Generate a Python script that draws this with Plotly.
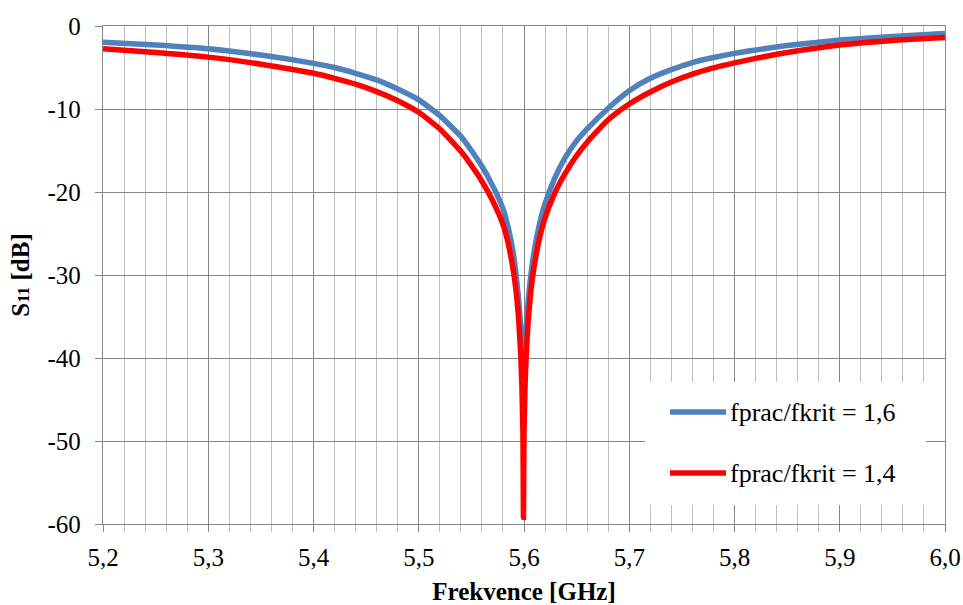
import plotly.graph_objects as go

# Reflection coefficient S11 [dB] versus frequency for two fprac/fkrit ratios
freq_16 = [5.20, 5.25, 5.30, 5.35, 5.40, 5.42, 5.44, 5.46, 5.48, 5.50, 5.52, 5.54, 5.55,
           5.56, 5.57, 5.58, 5.585, 5.59, 5.5925, 5.595, 5.597, 5.598, 5.599, 5.5995,
           5.600, 5.601, 5.602, 5.604, 5.6065, 5.609, 5.614, 5.619, 5.629, 5.639, 5.649,
           5.66, 5.68, 5.70, 5.72, 5.74, 5.76, 5.78, 5.80, 5.82, 5.85, 5.90, 5.95, 6.00]
s11_16 = [-1.95, -2.3, -2.75, -3.5, -4.5, -5.0, -5.7, -6.5, -7.6, -8.9, -10.8, -13.3, -15.0,
          -16.9, -19.2, -22.0, -24.3, -27.5, -30.0, -33.1, -36.5, -38.4, -40.2, -40.9,
          -40.2, -38.4, -36.5, -33.1, -30.0, -27.7, -24.3, -21.8, -18.4, -15.9, -14.0,
          -12.4, -9.9, -7.8, -6.3, -5.25, -4.4, -3.8, -3.3, -2.9, -2.35, -1.7, -1.25, -0.9]

freq_14 = [5.20, 5.25, 5.30, 5.35, 5.40, 5.42, 5.44, 5.46, 5.48, 5.50, 5.52, 5.54, 5.55,
           5.56, 5.57, 5.58, 5.585, 5.59, 5.5925, 5.595, 5.597, 5.598, 5.599, 5.5995,
           5.600, 5.601, 5.602, 5.604, 5.6065, 5.609, 5.614, 5.619, 5.629, 5.639, 5.649,
           5.66, 5.68, 5.70, 5.72, 5.74, 5.76, 5.78, 5.80, 5.82, 5.85, 5.90, 5.95, 6.00]
s11_14 = [-2.75, -3.2, -3.75, -4.6, -5.7, -6.3, -7.0, -7.9, -9.0, -10.4, -12.4, -15.1, -16.8,
          -18.7, -21.0, -23.9, -26.2, -29.6, -32.0, -35.5, -39.9, -43.4, -49.1, -59.2,
          -49.1, -43.4, -39.9, -35.5, -32.0, -29.5, -26.0, -23.5, -20.2, -17.8, -15.8,
          -14.0, -11.3, -9.4, -7.95, -6.75, -5.8, -5.05, -4.45, -3.9, -3.2, -2.3, -1.75, -1.4]

names = ["fprac/fkrit = 1,6", "fprac/fkrit = 1,4"]
colors = ["#4F81BD", "#FF0000"]

x_ticks = [5.2, 5.3, 5.4, 5.5, 5.6, 5.7, 5.8, 5.9, 6.0]
x_labels = ["5,2", "5,3", "5,4", "5,5", "5,6", "5,7", "5,8", "5,9", "6,0"]
y_ticks = [0, -10, -20, -30, -40, -50, -60]
y_labels = ["0", "-10", "-20", "-30", "-40", "-50", "-60"]

FONT = "Liberation Serif"
MAJOR = "#868686"
MINOR = "#BDBDBD"
TICKFONT = dict(family=FONT, size=25, color="black")
TITLEFONT = dict(family=FONT, size=25, color="black")

L, R, T, B = 103, 18, 26, 81
W, H = 963, 605
PW, PH = W - L - R, H - T - B

fig = go.Figure()
for fx, fy, name, col in [(freq_16, s11_16, names[0], colors[0]),
                          (freq_14, s11_14, names[1], colors[1])]:
    fig.add_trace(go.Scatter(x=fx, y=fy, name=name, mode="lines",
                             line=dict(color=col, width=5.5, shape="spline", smoothing=0.5),
                             showlegend=False))

fig.update_layout(
    width=W, height=H,
    margin=dict(l=L, r=R, t=T, b=B, autoexpand=False),
    plot_bgcolor="white", paper_bgcolor="white",
    font=dict(family=FONT, size=25, color="black"),
)

fig.update_xaxes(
    range=[5.2, 6.0], tickvals=x_ticks, ticktext=x_labels, automargin=False,
    tickfont=TICKFONT,
    showgrid=True, gridcolor=MAJOR, gridwidth=1.3,
    showline=True, linecolor=MAJOR, linewidth=1.3, mirror=True,
    ticks="outside", ticklen=7, tickcolor=MAJOR, tickwidth=1.3,
    ticklabelstandoff=4,
    minor=dict(dtick=0.02, tick0=5.2, showgrid=True, gridcolor=MINOR, gridwidth=1.3,
               ticks="outside", ticklen=7, tickcolor=MINOR),
    zeroline=False,
    title=dict(text="<b>Frekvence [GHz]</b>", font=TITLEFONT, standoff=12),
)
fig.update_yaxes(
    range=[-60, 0], tickvals=y_ticks, ticktext=y_labels, automargin=False,
    tickfont=TICKFONT,
    showgrid=True, gridcolor=MAJOR, gridwidth=1.3,
    showline=True, linecolor=MAJOR, linewidth=1.3, mirror=True,
    ticks="outside", ticklen=7, tickcolor=MAJOR, tickwidth=1.3,
    ticklabelstandoff=9,
    zeroline=False,
    title=dict(text="<b>S<span style='font-size:17px'>11</span> [dB]</b>",
               font=TITLEFONT, standoff=10),
)


# Legend panel drawn in paper coordinates
def px(xpx):
    return (xpx - L) / PW


def py(ypx):
    return (H - B - ypx) / PH


fig.add_shape(type="rect", xref="paper", yref="paper", x0=px(645), x1=px(926),
              y0=py(505), y1=py(382), fillcolor="white", line=dict(width=0),
              layer="above")
for name, col, ypx in [(names[0], colors[0], 412), (names[1], colors[1], 473)]:
    fig.add_shape(type="line", xref="paper", yref="paper",
                  x0=px(670), x1=px(726), y0=py(ypx), y1=py(ypx),
                  line=dict(color=col, width=5.5), layer="above")
    fig.add_annotation(xref="paper", yref="paper", x=px(728), y=py(ypx),
                       text=name, showarrow=False, xanchor="left", yanchor="middle",
                       font=dict(family=FONT, size=26, color="black"))

fig.write_html("out.html")
